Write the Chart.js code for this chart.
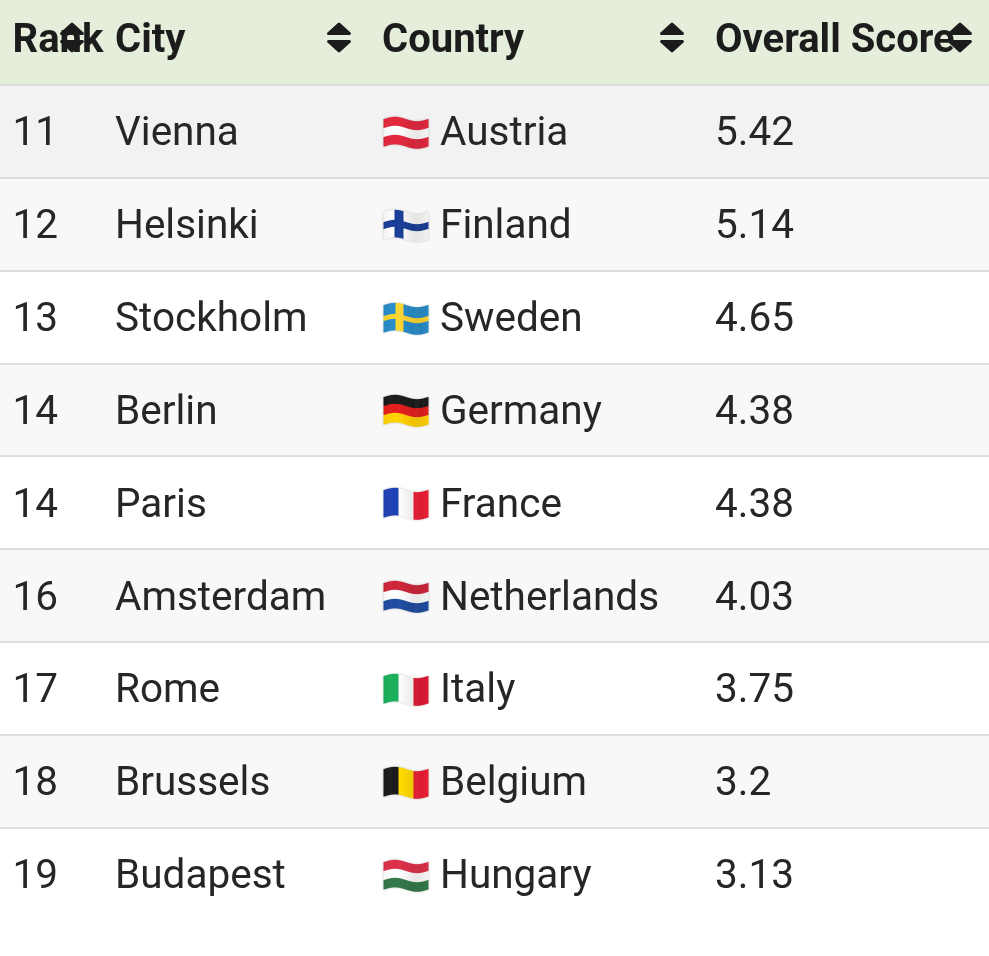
<!DOCTYPE html>
<html><head><meta charset="utf-8">
<style>html,body{margin:0;padding:0;background:#fff}canvas{display:block}</style>
<script src="https://cdn.jsdelivr.net/npm/chart.js@4"></script></head>
<body><canvas id="c" width="989" height="956"></canvas>
<script>
const headers = ["Rank", "City", "Country", "Overall Score"];
const ranks = [11, 12, 13, 14, 14, 16, 17, 18, 19];
const cities = ["Vienna", "Helsinki", "Stockholm", "Berlin", "Paris", "Amsterdam", "Rome", "Brussels", "Budapest"];
const countries = ["Austria", "Finland", "Sweden", "Germany", "France", "Netherlands", "Italy", "Belgium", "Hungary"];
const scores = [5.42, 5.14, 4.65, 4.38, 4.38, 4.03, 3.75, 3.2, 3.13];
const rowColors = ["#f2f2f2", "#f8f8f8", "#ffffff", "#f8f8f8", "#ffffff", "#f8f8f8", "#ffffff", "#f8f8f8", "#ffffff"];

const W = 989, H = 956, HEADER_H = 85;
const colX = [12.5, 115, 382, 715];
const sortX = [72, 339, 672, 960];
const TEXT = "#262626";
const FONT = 'Roboto, sans-serif';

const flagPainters = {
  Austria: (u, v) => v < 1/3 || v > 2/3 ? [226,40,62] : [252,252,252],
  Finland: (u, v) => (u > .24 && u < .44) || (v > .38 && v < .62) ? [26,62,150] : [250,250,250],
  Sweden: (u, v) => (u > .26 && u < .44) || (v > .40 && v < .60) ? [252,212,50] : [40,140,200],
  Germany: (u, v) => v < 1/3 ? [28,28,28] : v < 2/3 ? [228,30,30] : [255,208,0],
  France: (u, v) => u < 1/3 ? [32,66,180] : u < 2/3 ? [252,252,252] : [238,30,52],
  Netherlands: (u, v) => v < 1/3 ? [205,38,58] : v < 2/3 ? [252,252,252] : [32,76,160],
  Italy: (u, v) => u < 1/3 ? [28,175,90] : u < 2/3 ? [252,252,252] : [224,25,52],
  Belgium: (u, v) => u < 1/3 ? [28,28,28] : u < 2/3 ? [255,218,0] : [238,30,52],
  Hungary: (u, v) => v < 1/3 ? [220,48,74] : v < 2/3 ? [252,252,252] : [52,120,74]
};

function drawFlag(ctx, name, x, cy) {
  const fw = 45, fh = 27, pad = 6;
  const off = document.createElement('canvas');
  off.width = fw + pad * 2; off.height = fh + 10 + pad * 2;
  const o = off.getContext('2d');
  const paint = flagPainters[name];
  for (let i = 0; i < fw; i++) {
    const u = i / (fw - 1);
    const dy = -2.2 * Math.sin(u * Math.PI * 2);
    const shade = 0.97 + 0.04 * Math.sin(u * Math.PI * 2);
    for (let j = 0; j < fh; j++) {
      const v = j / (fh - 1);
      const c = paint(u, v).map(k => Math.min(255, Math.round(k * shade)));
      o.fillStyle = `rgb(${c[0]},${c[1]},${c[2]})`;
      o.fillRect(i + pad, j + pad + 5 + dy, 1, 1.6);
    }
  }
  ctx.save();
  ctx.shadowColor = 'rgba(0,0,0,0.22)';
  ctx.shadowBlur = 2;
  ctx.filter = 'blur(0.6px)';
  ctx.drawImage(off, x - pad, Math.round(cy - off.height / 2));
  ctx.restore();
}

function drawSort(ctx, cx) {
  ctx.save();
  ctx.fillStyle = "#1c1c1c"; ctx.strokeStyle = "#1c1c1c";
  ctx.lineWidth = 3; ctx.lineJoin = 'round';
  ctx.beginPath(); ctx.moveTo(cx, 24); ctx.lineTo(cx + 10.5, 33.5); ctx.lineTo(cx - 10.5, 33.5); ctx.closePath();
  ctx.fill(); ctx.stroke();
  ctx.beginPath(); ctx.moveTo(cx, 51); ctx.lineTo(cx + 10.5, 41.5); ctx.lineTo(cx - 10.5, 41.5); ctx.closePath();
  ctx.fill(); ctx.stroke();
  ctx.restore();
}

const tablePlugin = {
  id: 'table',
  beforeDatasetsDraw(chart) {
    const ctx = chart.ctx;
    ctx.save();
    ctx.fillStyle = "#e4eedb";
    ctx.fillRect(0, 0, W, HEADER_H);
    ctx.restore();
  },
  afterDraw(chart) {
    const ctx = chart.ctx, y = chart.scales.y;
    ctx.save();
    ctx.textBaseline = 'alphabetic';
    ctx.fillStyle = "#1c1c1c";
    ctx.font = `700 40px ${FONT}`;
    headers.forEach((h, i) => ctx.fillText(h, colX[i], 52));
    sortX.forEach(x => drawSort(ctx, x));
    ctx.font = `400 40.5px ${FONT}`;
    ctx.fillStyle = TEXT;
    cities.forEach((city, i) => {
      const cy = y.getPixelForValue(i), base = cy + 14;
      ctx.fillText(String(ranks[i]), colX[0], base);
      ctx.fillText(city, colX[1], base);
      drawFlag(ctx, countries[i], colX[2] + 1.5, cy + 1);
      ctx.fillStyle = TEXT;
      ctx.fillText(countries[i], colX[2] + 58, base);
      ctx.fillText(String(scores[i]), colX[3], base);
    });
    ctx.restore();
  }
};

new Chart(document.getElementById('c'), {
  type: 'bar',
  data: {
    labels: cities,
    datasets: [{
      label: headers[3],
      data: scores.map(() => [0, W]),
      backgroundColor: rowColors,
      borderWidth: 0,
      barPercentage: 1,
      categoryPercentage: 1
    }]
  },
  options: {
    indexAxis: 'y',
    responsive: false,
    animation: false,
    devicePixelRatio: 1,
    layout: { padding: { top: HEADER_H, bottom: 35.5, left: 0, right: 0 } },
    plugins: { legend: { display: false }, tooltip: { enabled: false }, title: { display: false } },
    scales: {
      x: { type: 'linear', min: 0, max: W, display: false },
      y: {
        type: 'category',
        offset: true,
        ticks: { display: false },
        border: { display: false },
        grid: {
          z: 1,
          offset: true,
          drawTicks: false,
          lineWidth: 2,
          color: ctx => ctx.type === 'tick' ? '#dddddd' : 'rgba(0,0,0,0)'
        }
      }
    }
  },
  plugins: [tablePlugin]
});
</script></body></html>
